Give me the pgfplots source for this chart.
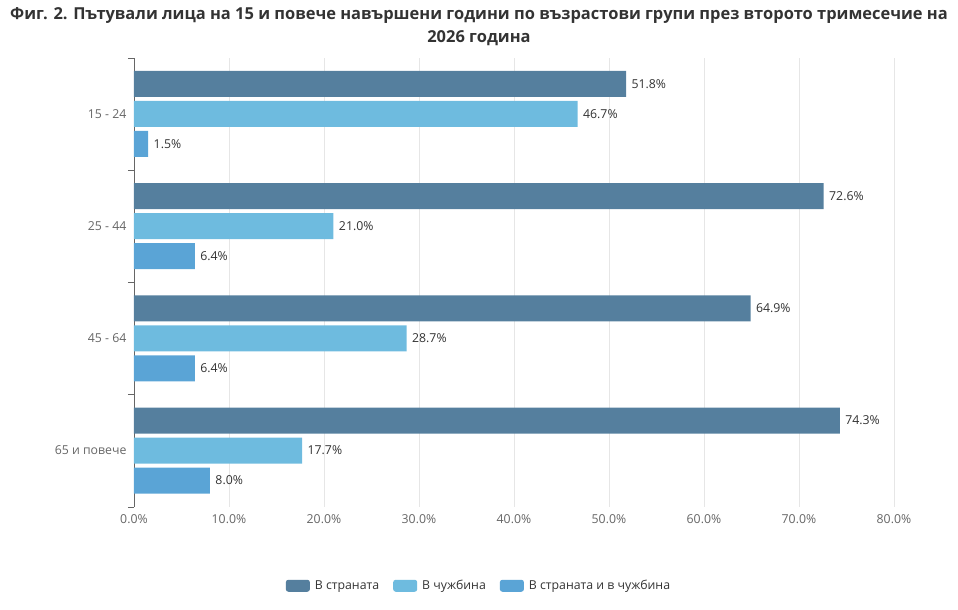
\documentclass[border=0pt]{standalone}
\usepackage{pgfplots}
\pgfplotsset{compat=1.18}
\usepackage{fontspec}
\setmainfont{Open Sans}
\definecolor{c1}{HTML}{557F9E}
\definecolor{c2}{HTML}{6EBBDF}
\definecolor{c3}{HTML}{5AA4D6}
\definecolor{tit}{HTML}{333333}
\definecolor{lab}{HTML}{666666}
\definecolor{gridc}{HTML}{E6E6E6}
\begin{document}
\begin{tikzpicture}[x=1pt,y=1pt]
\path[use as bounding box] (0,0) rectangle (958,610);
\node[font=\bfseries\fontsize{16.45}{23}\selectfont, text=tit, align=center] at (479,583.5) {Фиг. 2. Пътували лица на 15 и повече навършени години по възрастови групи през второто тримесечие на\\2026 година};
\begin{axis}[
  at={(141,92)}, anchor=south west,
  scale only axis, width=760pt, height=449pt,
  xmin=0, xmax=80, ymin=-0.5, ymax=3.5,
  xbar, bar width=0.231,
  /pgf/number format/assume math mode=true,
  xtick={0,10,...,80},
  xticklabel={\pgfmathprintnumber[fixed,fixed zerofill,precision=1]{\tick}\%},
  ytick={0,1,2,3},
  yticklabels={65 и повече,45 - 64,25 - 44,15 - 24},
  extra y ticks={-0.5,0.5,1.5,2.5,3.5},
  extra y tick labels={},
  extra y tick style={major tick length=6pt, tick align=outside, tick style={draw=lab}, grid=none},
  major tick length=0pt,
  xmajorgrids, grid style={draw=gridc, line width=0.8pt},
  axis lines*=left,
  x axis line style={draw=none},
  y axis line style={draw=lab, line width=0.8pt},
  tick label style={font=\fontsize{12.3}{14}\selectfont, text=lab},
  xticklabel style={yshift=-4pt},
  yticklabel style={xshift=-4pt},
  nodes near coords={\pgfmathprintnumber[fixed,fixed zerofill,precision=1]{\pgfplotspointmeta}\%},
  point meta=x,
  every node near coord/.append style={font=\fontsize{12.3}{14}\selectfont, text=tit, anchor=west, xshift=2pt},
  legend style={at={(0.454,-0.176)}, anchor=center, legend columns=-1, draw=none,
    font=\fontsize{12.3}{14}\selectfont, text=tit,
    /tikz/every even column/.append style={column sep=12pt}},
  legend image code/.code={\fill[#1, rounded corners=2.5pt] (0pt,-6pt) rectangle (24pt,6pt); \path (27pt,0pt);},
]
\addplot[fill=c1, draw=none, bar shift=0.267] coordinates {(51.8,3) (72.6,2) (64.9,1) (74.3,0)};
\addplot[fill=c2, draw=none, bar shift=0] coordinates {(46.7,3) (21.0,2) (28.7,1) (17.7,0)};
\addplot[fill=c3, draw=none, bar shift=-0.267] coordinates {(1.5,3) (6.4,2) (6.4,1) (8.0,0)};
\legend{В страната,В чужбина,В страната и в чужбина}
\end{axis}
\end{tikzpicture}
\end{document}
